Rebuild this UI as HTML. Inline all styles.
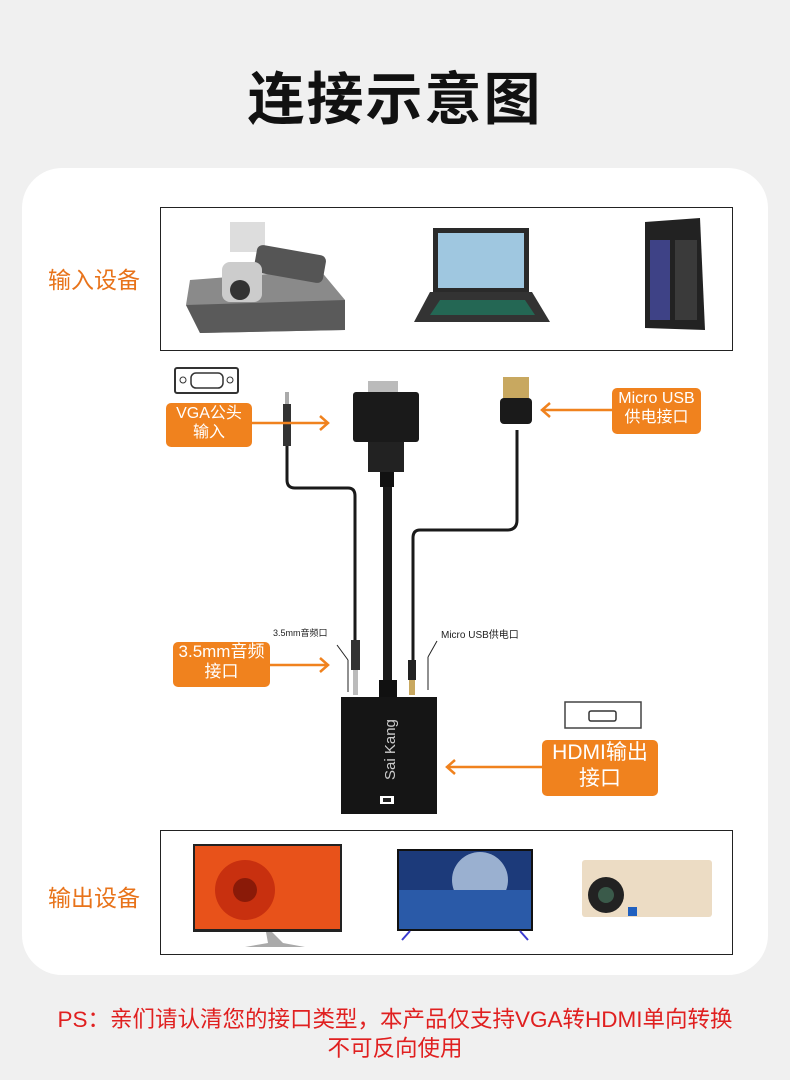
<!DOCTYPE html>
<html><head><meta charset="utf-8"><style>
body{margin:0;width:790px;height:1080px;background:#f0f0f0;position:relative;overflow:hidden;font-family:"Liberation Sans","Noto Sans CJK SC",sans-serif}
.abs{position:absolute}
.t{position:absolute;left:0;width:790px;text-align:center;top:54px;font-size:57px;font-weight:bold;color:#111;letter-spacing:2px}
.panel{position:absolute;left:22px;top:168px;width:746px;height:807px;background:#fff;border-radius:40px}
.box{position:absolute;border:1px solid #222;background:#fff}
.lab{position:absolute;color:#e8731a;font-size:23px}
.ob{position:absolute;background:#f0821e;color:#fff;border-radius:5px;text-align:center;line-height:1.2}
.ps{position:absolute;left:0;width:790px;text-align:center;color:#e02020;font-size:22.5px}
</style></head><body>
<div class="t">连接示意图</div>
<div class="panel"></div>
<div class="box" style="left:160px;top:207px;width:571px;height:142px"></div>
<div class="box" style="left:160px;top:830px;width:571px;height:123px"></div>
<div class="lab" style="left:48px;top:261px">输入设备</div>
<div class="lab" style="left:48px;top:879px">输出设备</div>
<svg class="abs" style="left:0;top:0" width="790" height="1080">
<polygon points="190,280 320,270 345,300 345,330 200,333 186,305" fill="#8a8a8a"/>
<polygon points="186,305 345,300 345,330 200,333" fill="#5a5a5a"/>
<rect x="230" y="222" width="35" height="30" fill="#ddd"/>
<rect x="255" y="250" width="70" height="28" rx="6" fill="#555" transform="rotate(10 290 264)"/>
<rect x="222" y="262" width="40" height="40" rx="8" fill="#ccc"/>
<circle cx="240" cy="290" r="10" fill="#333"/>
<rect x="433" y="228" width="96" height="64" fill="#2a2a2a"/>
<rect x="438" y="233" width="86" height="55" fill="#9fc7e0"/>
<polygon points="430,292 532,292 550,322 414,322" fill="#333"/>
<polygon points="440,300 525,300 535,315 430,315" fill="#1a8a6a" opacity=".6"/>
<polygon points="645,222 700,218 705,330 645,328" fill="#222"/>
<rect x="650" y="240" width="20" height="80" fill="#4a50b0" opacity=".7"/>
<rect x="675" y="240" width="22" height="80" fill="#3a3a3a"/>
<rect x="193" y="844" width="149" height="88" fill="#222"/>
<rect x="195" y="846" width="145" height="83" fill="#e8521a"/>
<circle cx="245" cy="890" r="30" fill="#c8300f"/>
<circle cx="245" cy="890" r="12" fill="#8a1a08"/>
<polygon points="260,932 266,932 268,943 245,947 305,947 283,943 272,932" fill="#aaa"/>
<rect x="397" y="849" width="136" height="82" fill="#111"/>
<rect x="399" y="851" width="132" height="78" fill="#1c3a7a"/>
<circle cx="480" cy="880" r="28" fill="#9ab0d0"/>
<rect x="399" y="890" width="132" height="39" fill="#2a5aa8"/>
<line x1="410" y1="931" x2="402" y2="940" stroke="#3a3ad0" stroke-width="2"/><line x1="520" y1="931" x2="528" y2="940" stroke="#3a3ad0" stroke-width="2"/>
<rect x="582" y="860" width="130" height="57" rx="3" fill="#ecdcc4"/>
<circle cx="606" cy="895" r="18" fill="#222"/><circle cx="606" cy="895" r="8" fill="#3a5a4a"/>
<rect x="628" y="907" width="9" height="9" fill="#2060c0"/>
<rect x="175" y="368" width="63" height="25" rx="2" fill="#fff" stroke="#333" stroke-width="2"/>
<rect x="191" y="373" width="32" height="15" rx="5" fill="#fff" stroke="#333" stroke-width="1.5"/>
<circle cx="183" cy="380" r="3" fill="none" stroke="#333"/><circle cx="230" cy="380" r="3" fill="none" stroke="#333"/>
<rect x="565" y="702" width="76" height="26" fill="#fff" stroke="#444" stroke-width="1.5"/>
<rect x="589" y="711" width="27" height="10" rx="2" fill="#fff" stroke="#333" stroke-width="1.5"/>
<g fill="none" stroke="#1a1a1a" stroke-width="3">
<path d="M287,445 V480 Q287,488 295,488 H348 Q355,488 355,496 V640"/>
<path d="M517,430 V520 Q517,530 507,530 H420 Q413,530 413,538 V660"/>
</g>
<rect x="383" y="460" width="9" height="240" fill="#1a1a1a"/>
<rect x="368" y="381" width="30" height="12" fill="#bbb"/>
<rect x="353" y="392" width="66" height="50" rx="3" fill="#1a1a1a"/>
<rect x="368" y="442" width="36" height="30" fill="#222"/>
<rect x="380" y="472" width="14" height="15" fill="#111"/>
<rect x="285" y="392" width="4" height="12" fill="#aaa"/>
<rect x="283" y="404" width="8" height="42" fill="#333"/>
<rect x="503" y="377" width="26" height="22" fill="#c8a860"/>
<rect x="500" y="398" width="32" height="26" rx="4" fill="#1a1a1a"/>
<rect x="351" y="640" width="9" height="30" fill="#333"/><rect x="353" y="670" width="5" height="25" fill="#bbb"/>
<rect x="408" y="660" width="8" height="20" fill="#222"/><rect x="409" y="680" width="6" height="15" fill="#c8a860"/>
<rect x="379" y="680" width="18" height="20" fill="#111"/>
<rect x="341" y="697" width="96" height="117" fill="#151515"/>
<text x="395" y="780" transform="rotate(-90 395 780)" fill="#ccc" font-size="15" font-family="Liberation Sans">Sai Kang</text>
<rect x="380" y="796" width="14" height="8" fill="#fff"/><rect x="383" y="798" width="8" height="4" fill="#222"/>
<g stroke="#222" stroke-width="1"><line x1="337" y1="645" x2="348" y2="660"/><line x1="348" y1="660" x2="348" y2="692"/><line x1="437" y1="641" x2="428" y2="657"/><line x1="428" y1="657" x2="428" y2="690"/></g>
<g stroke="#f0821e" stroke-width="2.5" fill="none">
<line x1="252" y1="423" x2="328" y2="423"/><path d="M320,416 L328,423 L320,430"/>
<line x1="612" y1="410" x2="542" y2="410"/><path d="M550,403 L542,410 L550,417"/>
<line x1="270" y1="665" x2="328" y2="665"/><path d="M320,658 L328,665 L320,672"/>
<line x1="542" y1="767" x2="447" y2="767"/><path d="M455,760 L447,767 L455,774"/>
</g>
<text x="273" y="636" font-size="9" fill="#222">3.5mm音频口</text>
<text x="441" y="638" font-size="10" fill="#222">Micro USB供电口</text>
</svg>
<div class="ob" style="left:166px;top:403px;width:86px;height:43px;font-size:16px;padding-top:1px">VGA公头<br>输入</div>
<div class="ob" style="left:612px;top:388px;width:89px;height:45px;font-size:16px;padding-top:1px">Micro USB<br>供电接口</div>
<div class="ob" style="left:173px;top:642px;width:97px;height:45px;font-size:17px">3.5mm音频<br>接口</div>
<div class="ob" style="left:542px;top:740px;width:116px;height:56px;font-size:21px;line-height:1.25">HDMI输出<br>接口</div>
<div class="ps" style="top:1002px">PS：亲们请认清您的接口类型，本产品仅支持VGA转HDMI单向转换</div>
<div class="ps" style="top:1031px">不可反向使用</div>
</body></html>
